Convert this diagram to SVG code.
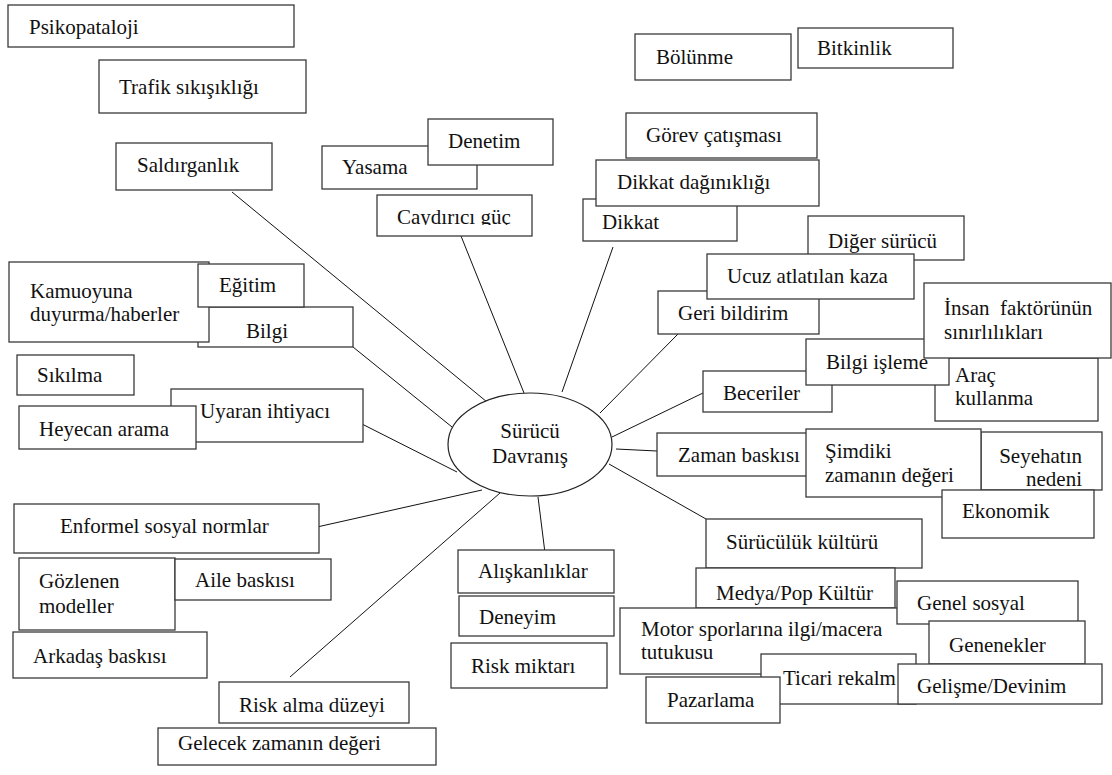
<svg xmlns="http://www.w3.org/2000/svg" width="1112" height="775" viewBox="0 0 1112 775">
<style>
.b{fill:#fff;stroke:#3a3a3a;stroke-width:1.3}
.t{font-family:'Liberation Serif','Times New Roman',serif;font-size:21px;fill:#111}
.c line{stroke:#111;stroke-width:1}
</style>
<defs>
<clipPath id="clipCay"><rect x="377" y="195" width="155" height="30"/></clipPath>
<clipPath id="clipBilgi"><rect x="198" y="307" width="155" height="37"/></clipPath>
</defs>
<rect width="1112" height="775" fill="#fff"/>
<g id="connectors" class="c">
<line x1="232" y1="192" x2="487" y2="402"/>
<line x1="353" y1="347" x2="452" y2="427"/>
<line x1="358" y1="422" x2="457" y2="472"/>
<line x1="317" y1="527" x2="482" y2="490"/>
<line x1="290" y1="677" x2="500" y2="493"/>
<line x1="538" y1="497" x2="545" y2="553"/>
<line x1="459" y1="231" x2="524" y2="393"/>
<line x1="613" y1="247" x2="562" y2="392"/>
<line x1="678" y1="334" x2="600" y2="413"/>
<line x1="703" y1="393" x2="612" y2="437"/>
<line x1="616" y1="449" x2="657" y2="451"/>
<line x1="609" y1="464" x2="706" y2="519"/>
</g>
<g id="center"><ellipse cx="530" cy="444.5" rx="82" ry="51.5" fill="#fff" stroke="#222" stroke-width="1.2"/>
<text class="t" x="530" y="438" text-anchor="middle">Sürücü</text>
<text class="t" x="530" y="463" text-anchor="middle">Davranış</text></g>
<g id="psikopataloji"><rect class="b" x="8" y="5" width="286" height="42"/><text class="t" x="29" y="34">Psikopataloji</text></g>
<g id="trafik"><rect class="b" x="99" y="60" width="207" height="53"/><text class="t" x="119" y="94">Trafik sıkışıklığı</text></g>
<g id="saldirganlik"><rect class="b" x="116" y="143" width="156" height="47"/><text class="t" x="137" y="172">Saldırganlık</text></g>
<g id="yasama"><rect class="b" x="322" y="146" width="155" height="43"/><text class="t" x="342" y="174">Yasama</text></g>
<g id="denetim"><rect class="b" x="428" y="119" width="125" height="46"/><text class="t" x="448" y="148">Denetim</text></g>
<g id="caydirici"><rect class="b" x="377" y="195" width="155" height="41"/><text class="t" x="397" y="224" clip-path="url(#clipCay)">Caydırıcı güç</text></g>
<g id="bolunme"><rect class="b" x="635" y="34" width="156" height="46"/><text class="t" x="656" y="64">Bölünme</text></g>
<g id="bitkinlik"><rect class="b" x="798" y="28" width="155" height="40"/><text class="t" x="817" y="55">Bitkinlik</text></g>
<g id="gorev"><rect class="b" x="626" y="113" width="191" height="45"/><text class="t" x="646" y="142">Görev çatışması</text></g>
<g id="dikkat"><rect class="b" x="583" y="199" width="154" height="42"/><text class="t" x="602" y="229">Dikkat</text></g>
<g id="dikkat-daginikligi"><rect class="b" x="596" y="160" width="223" height="46"/><text class="t" x="617" y="189">Dikkat dağınıklığı</text></g>
<g id="diger-surucu"><rect class="b" x="808" y="216" width="156" height="44"/><text class="t" x="828" y="248">Diğer sürücü</text></g>
<g id="geri-bildirim"><rect class="b" x="658" y="291" width="161" height="43"/><text class="t" x="678" y="320">Geri bildirim</text></g>
<g id="ucuz"><rect class="b" x="707" y="254" width="207" height="45"/><text class="t" x="727" y="283">Ucuz atlatılan kaza</text></g>
<g id="beceriler"><rect class="b" x="703" y="371" width="129" height="41"/><text class="t" x="723" y="400">Beceriler</text></g>
<g id="arac"><rect class="b" x="935" y="358" width="163" height="63"/><text class="t" x="955" y="382">Araç</text><text class="t" x="955" y="405">kullanma</text></g>
<g id="bilgi-isleme"><rect class="b" x="806" y="339" width="143" height="46"/><text class="t" x="826" y="369">Bilgi işleme</text></g>
<g id="insan"><rect class="b" x="924" y="283" width="187" height="75"/><text class="t" x="944" y="315" xml:space="preserve">İnsan  faktörünün</text><text class="t" x="944" y="339">sınırlılıkları</text></g>
<g id="zaman-baskisi"><rect class="b" x="657" y="433" width="160" height="43"/><text class="t" x="678" y="462">Zaman baskısı</text></g>
<g id="seyehat"><rect class="b" x="981" y="432" width="121" height="58"/><text class="t" x="1082" y="463" text-anchor="end">Seyehatın</text><text class="t" x="1082" y="486" text-anchor="end">nedeni</text></g>
<g id="simdiki"><rect class="b" x="806" y="429" width="175" height="68"/><text class="t" x="825" y="458">Şimdiki</text><text class="t" x="825" y="482">zamanın değeri</text></g>
<g id="ekonomik"><rect class="b" x="942" y="490" width="152" height="48"/><text class="t" x="962" y="518">Ekonomik</text></g>
<g id="surucululuk"><rect class="b" x="706" y="519" width="216" height="49"/><text class="t" x="726" y="549">Sürücülük kültürü</text></g>
<g id="medya"><rect class="b" x="696" y="568" width="199" height="40"/><text class="t" x="716" y="600">Medya/Pop Kültür</text></g>
<g id="motor"><rect class="b" x="620" y="608" width="340" height="66"/><text class="t" x="641" y="636">Motor sporlarına ilgi/macera</text><text class="t" x="641" y="659">tutukusu</text></g>
<g id="genel-sosyal"><rect class="b" x="897" y="581" width="181" height="43"/><text class="t" x="917" y="610">Genel sosyal</text></g>
<g id="genenekler"><rect class="b" x="929" y="621" width="156" height="43"/><text class="t" x="949" y="652">Genenekler</text></g>
<g id="ticari"><rect class="b" x="761" y="654" width="155" height="50"/><text class="t" x="783" y="685">Ticari rekalm</text></g>
<g id="gelisme"><rect class="b" x="898" y="664" width="204" height="40"/><text class="t" x="917" y="693">Gelişme/Devinim</text></g>
<g id="pazarlama"><rect class="b" x="646" y="677" width="134" height="46"/><text class="t" x="667" y="707">Pazarlama</text></g>
<g id="bilgi"><rect class="b" x="198" y="307" width="155" height="40"/><text class="t" x="246" y="338" clip-path="url(#clipBilgi)">Bilgi</text></g>
<g id="kamuoyuna"><rect class="b" x="9" y="262" width="200" height="80"/><text class="t" x="30" y="298">Kamuoyuna</text><text class="t" x="30" y="321">duyurma/haberler</text></g>
<g id="egitim"><rect class="b" x="198" y="264" width="106" height="43"/><text class="t" x="219" y="292">Eğitim</text></g>
<g id="sikilma"><rect class="b" x="17" y="355" width="117" height="40"/><text class="t" x="37" y="382">Sıkılma</text></g>
<g id="uyaran"><rect class="b" x="171" y="389" width="192" height="53"/><text class="t" x="200" y="418">Uyaran ihtiyacı</text></g>
<g id="heyecan"><rect class="b" x="19" y="406" width="177" height="43"/><text class="t" x="39" y="436">Heyecan arama</text></g>
<g id="enformel"><rect class="b" x="14" y="504" width="305" height="49"/><text class="t" x="60" y="533">Enformel sosyal normlar</text></g>
<g id="gozlenen"><rect class="b" x="19" y="558" width="156" height="72"/><text class="t" x="39" y="588">Gözlenen</text><text class="t" x="39" y="613">modeller</text></g>
<g id="aile"><rect class="b" x="175" y="559" width="156" height="41"/><text class="t" x="195" y="587">Aile baskısı</text></g>
<g id="arkadas"><rect class="b" x="13" y="632" width="194" height="46"/><text class="t" x="33" y="663">Arkadaş baskısı</text></g>
<g id="aliskanliklar"><rect class="b" x="458" y="550" width="156" height="43"/><text class="t" x="478" y="578">Alışkanlıklar</text></g>
<g id="deneyim"><rect class="b" x="459" y="596" width="155" height="40"/><text class="t" x="479" y="624">Deneyim</text></g>
<g id="risk-miktari"><rect class="b" x="451" y="643" width="156" height="45"/><text class="t" x="471" y="673">Risk miktarı</text></g>
<g id="risk-alma"><rect class="b" x="219" y="682" width="190" height="41"/><text class="t" x="239" y="712">Risk alma düzeyi</text></g>
<g id="gelecek"><rect class="b" x="158" y="728" width="278" height="37"/><text class="t" x="178" y="750">Gelecek zamanın değeri</text></g>
</svg>
